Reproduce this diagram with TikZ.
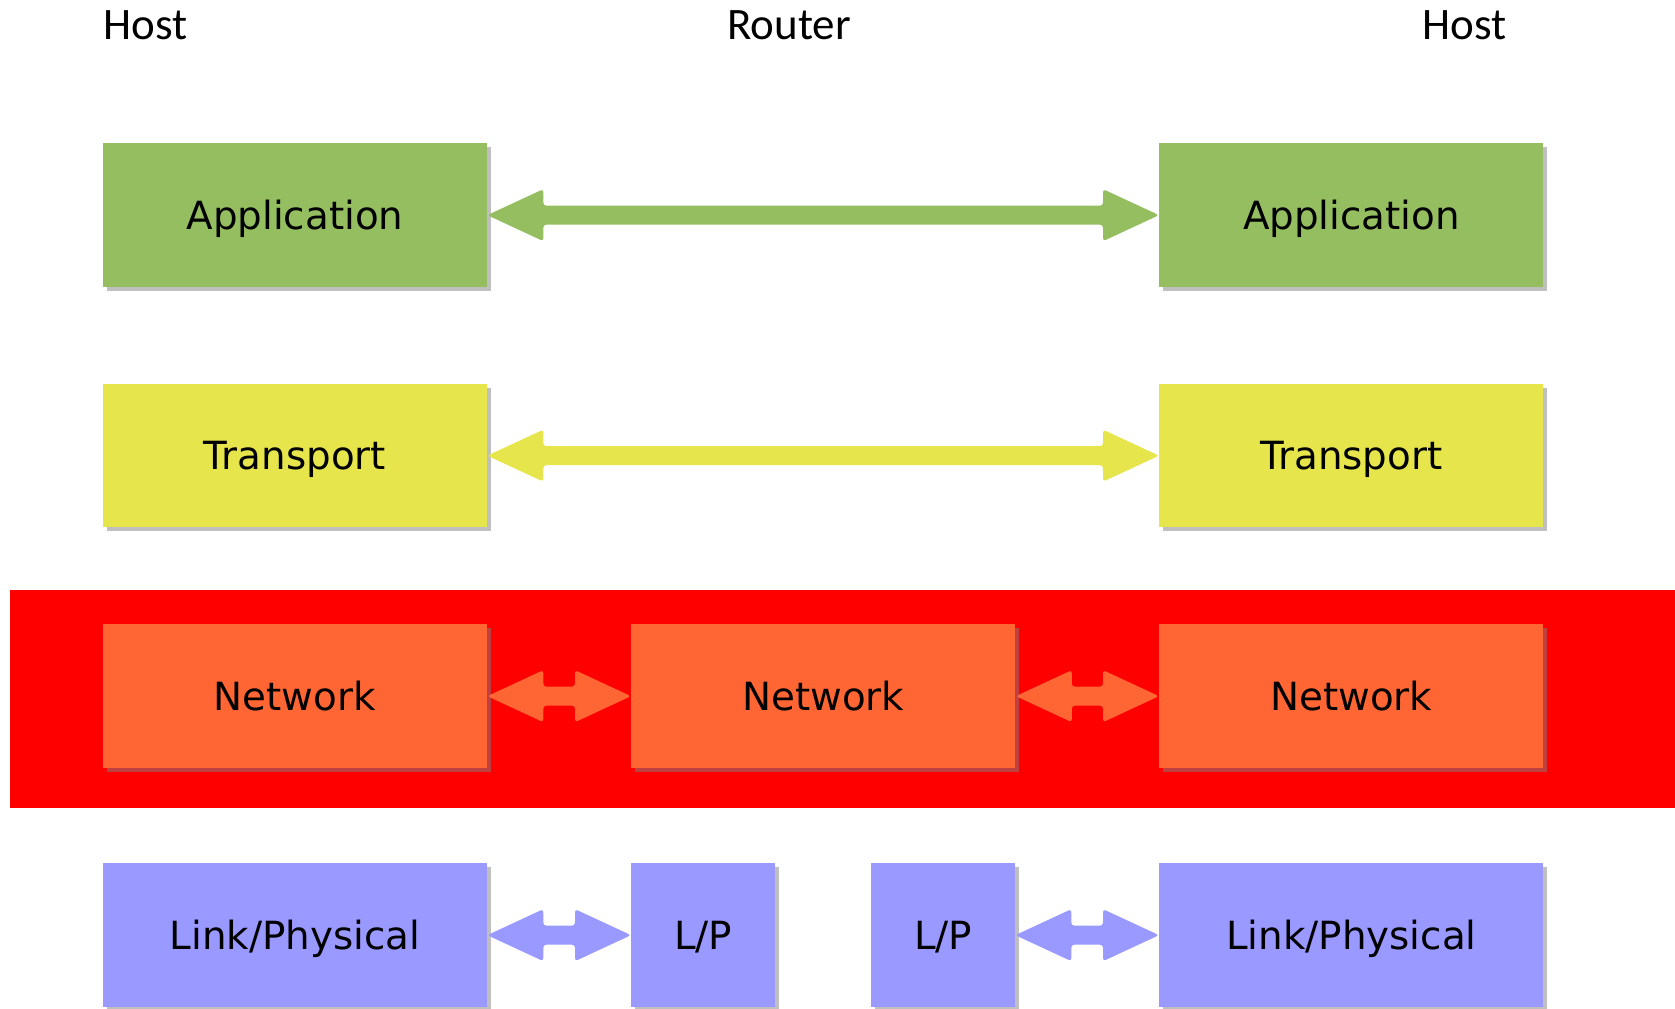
\documentclass[tikz,border=0pt]{standalone}
\usepackage{fontspec}
\setmainfont{DejaVu Sans}
\newfontfamily\headfont{Carlito}
\usetikzlibrary{shadows,calc}

\definecolor{appgreen}{RGB}{148,190,96}
\definecolor{tryellow}{RGB}{230,230,76}
\definecolor{netorange}{RGB}{255,102,51}
\definecolor{netband}{RGB}{255,0,0}
\definecolor{linkblue}{RGB}{153,153,255}

% double-headed block arrow between two named anchors on the same row
\newcommand\biarrow[3]{%
  \fill[#1, rounded corners=1.5pt] let \p1=(#2), \p2=(#3) in
    (\x1,\y1) -- (\x1+28pt,\y1+13pt) -- (\x1+28pt,\y1+4.75pt)
    -- (\x2-28pt,\y2+4.75pt) -- (\x2-28pt,\y2+13pt) -- (\x2,\y2)
    -- (\x2-28pt,\y2-13pt) -- (\x2-28pt,\y2-4.75pt)
    -- (\x1+28pt,\y1-4.75pt) -- (\x1+28pt,\y1-13pt) -- cycle;}

\begin{document}
\begin{tikzpicture}[x=0.5pt,y=-0.5pt,
  layerbox/.style={fill=#1, draw=none, inner sep=0pt, anchor=north west,
    minimum height=71.75pt, text height=14pt, text depth=0pt,
    font=\fontsize{19.4}{22}\selectfont,
    general shadow={fill=black!50, opacity=0.5, shadow xshift=2pt, shadow yshift=-2pt}},
  wide/.style={minimum width=192pt},
  narrow/.style={minimum width=71.75pt},
  headlabel/.style={anchor=base west, inner sep=0pt,
    font=\headfont\fontsize{22.5}{26}\selectfont}
]
\useasboundingbox (0,0) rectangle (1675,1008);
\fill[white] (0,0) rectangle (1675,1008);

% column headings
\node[headlabel] (hostA)  at (103,39)  {Host};
\node[headlabel] (router) at (727,39)  {Router};
\node[headlabel] (hostB)  at (1422,39) {Host};

% band behind the network layer
\node[fill=netband, inner sep=0pt, anchor=north west,
      minimum width=832.7pt, minimum height=109pt] (band) at (9.6,589.5) {};

% application layer
\node[layerbox=appgreen, wide] (app1) at (102.5,143) {Application};
\node[layerbox=appgreen, wide] (app2) at (1159,143)  {Application};

% transport layer
\node[layerbox=tryellow, wide] (tr1) at (102.5,383.5) {Transport};
\node[layerbox=tryellow, wide] (tr2) at (1159,383.5)  {Transport};

% network layer
\node[layerbox=netorange, wide] (net1) at (102.5,624) {Network};
\node[layerbox=netorange, wide] (net2) at (631,624)   {Network};
\node[layerbox=netorange, wide] (net3) at (1159,624)  {Network};

% link / physical layer
\node[layerbox=linkblue, wide]   (lp1) at (102.5,863) {Link/Physical};
\node[layerbox=linkblue, narrow] (lp2) at (631,863)   {L/P};
\node[layerbox=linkblue, narrow] (lp3) at (871,863)   {L/P};
\node[layerbox=linkblue, wide]   (lp4) at (1159,863)  {Link/Physical};

% peer connections
\biarrow{appgreen}{app1.east}{app2.west}
\biarrow{tryellow}{tr1.east}{tr2.west}
\biarrow{netorange}{net1.east}{net2.west}
\biarrow{netorange}{net2.east}{net3.west}
\biarrow{linkblue}{lp1.east}{lp2.west}
\biarrow{linkblue}{lp3.east}{lp4.west}
\end{tikzpicture}
\end{document}
